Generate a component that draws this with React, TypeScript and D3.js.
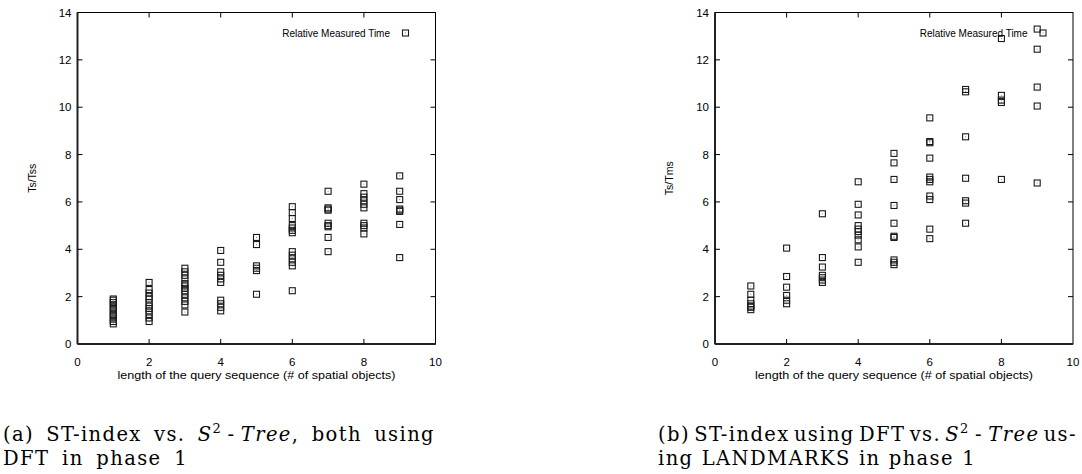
import React, { useEffect, useRef } from 'react';
import * as d3 from 'd3';

// query sequence lengths (x) and the measured ratios at each length
const lengths = [1, 2, 3, 4, 5, 6, 7, 8, 9];
const xTicks = [0, 2, 4, 6, 8, 10];
const yTicks = [0, 2, 4, 6, 8, 10, 12, 14];

// (a) Ts/Tss
const ratiosA = [
  [0.85, 0.95, 1.05, 1.15, 1.25, 1.35, 1.45, 1.55, 1.65, 1.75, 1.85, 1.9],
  [0.95, 1.1, 1.25, 1.4, 1.5, 1.6, 1.75, 1.9, 2.0, 2.15, 2.3, 2.6],
  [1.35, 1.65, 1.8, 1.95, 2.1, 2.25, 2.35, 2.45, 2.55, 2.75, 2.9, 3.05, 3.2],
  [1.4, 1.55, 1.7, 1.85, 2.6, 2.75, 2.9, 3.05, 3.45, 3.95],
  [2.1, 3.1, 3.2, 3.3, 4.2, 4.5],
  [2.25, 3.3, 3.45, 3.6, 3.75, 3.9, 4.7, 4.8, 4.9, 5.0, 5.3, 5.55, 5.8],
  [3.9, 4.5, 4.95, 5.0, 5.1, 5.65, 5.7, 5.75, 6.45],
  [4.65, 4.9, 5.0, 5.1, 5.75, 5.9, 6.05, 6.2, 6.35, 6.75],
  [3.65, 5.05, 5.6, 5.65, 5.7, 6.1, 6.45, 7.1],
];

// (b) Ts/Tms
const ratiosB = [
  [1.45, 1.55, 1.6, 1.7, 1.85, 2.1, 2.45],
  [1.7, 1.85, 2.05, 2.4, 2.85, 4.05],
  [2.6, 2.7, 2.8, 2.9, 3.25, 3.65, 5.5],
  [3.45, 4.1, 4.4, 4.6, 4.75, 4.85, 5.0, 5.45, 5.9, 6.85],
  [3.35, 3.45, 3.55, 4.5, 4.55, 5.1, 5.85, 6.95, 7.65, 8.05],
  [4.45, 4.85, 6.1, 6.25, 6.85, 6.95, 7.05, 7.85, 8.5, 8.55, 9.55],
  [5.1, 5.95, 6.05, 7.0, 8.75, 10.65, 10.75],
  [6.95, 10.2, 10.3, 10.5, 12.9],
  [6.8, 10.05, 10.85, 12.45, 13.3],
];

const legendLabel = 'Relative Measured Time';
const xTitle = 'length of the query sequence (# of spatial objects)';

type Seg = { t: string; it?: boolean; sup?: boolean };

const w = (t: string): Seg[] => [{ t }];
const s2tree = (tail: string): Seg[] => [
  { t: 'S', it: true }, { t: '2', sup: true }, { t: '\u2009-\u2009' }, { t: 'Tree', it: true }, { t: tail },
];

const captionA: Seg[][][] = [
  [w('(a)'), w('ST-index'), w('vs.'), s2tree(','), w('both'), w('using')],
  [w('DFT'), w('in'), w('phase'), w('1')],
];
const captionB: Seg[][][] = [
  [w('(b)'), w('ST-index'), w('using'), w('DFT'), w('vs.'), s2tree(''), w('us-')],
  [w('ing'), w('LANDMARKS'), w('in'), w('phase'), w('1')],
];

const SANS = 'Liberation Sans, Arial, Helvetica, sans-serif';
const SERIF = 'DejaVu Serif, serif';

const App = () => {
  const ref = useRef<SVGSVGElement>(null);

  useEffect(() => {
    const svg = d3.select(ref.current);
    svg.selectAll('*').remove();

    const top = 12.5;
    const bottom = 344;
    const plotW = 358;

    const drawPanel = (x0: number, ratios: number[][], yLabel: string) => {
      const x = d3.scaleLinear().domain([0, 10]).range([x0, x0 + plotW]);
      const y = d3.scaleLinear().domain([0, 14]).range([bottom, top]);
      const g = svg.append('g');

      // frame
      g.append('rect')
        .attr('x', x0).attr('y', top)
        .attr('width', plotW).attr('height', bottom - top)
        .attr('fill', 'none').attr('stroke', '#000').attr('stroke-width', 1);
      g.append('line').attr('x1', x0).attr('x2', x0 + plotW).attr('y1', bottom).attr('y2', bottom)
        .attr('stroke', '#222').attr('stroke-width', 2);
      g.append('line').attr('x1', x0).attr('x2', x0).attr('y1', top).attr('y2', bottom)
        .attr('stroke', '#222').attr('stroke-width', 2);

      // inward ticks on all four sides
      xTicks.slice(1, -1).forEach(t => {
        g.append('line').attr('x1', x(t)).attr('x2', x(t)).attr('y1', bottom).attr('y2', bottom - 5).attr('stroke', '#000');
        g.append('line').attr('x1', x(t)).attr('x2', x(t)).attr('y1', top).attr('y2', top + 5).attr('stroke', '#000');
      });
      yTicks.slice(1, -1).forEach(t => {
        g.append('line').attr('x1', x0).attr('x2', x0 + 5).attr('y1', y(t)).attr('y2', y(t)).attr('stroke', '#000');
        g.append('line').attr('x1', x0 + plotW).attr('x2', x0 + plotW - 5).attr('y1', y(t)).attr('y2', y(t)).attr('stroke', '#000');
      });

      g.selectAll('.xt').data(xTicks).enter().append('text')
        .attr('x', d => x(d)).attr('y', 366)
        .attr('text-anchor', 'middle').attr('font-family', SANS).attr('font-size', 11.5)
        .text(d => d);
      g.selectAll('.yt').data(yTicks).enter().append('text')
        .attr('x', x0 - 6).attr('y', d => y(d) + 4)
        .attr('text-anchor', 'end').attr('font-family', SANS).attr('font-size', 11.5)
        .text(d => d);

      g.append('text')
        .attr('x', x0 + plotW / 2).attr('y', 379)
        .attr('text-anchor', 'middle').attr('font-family', SANS).attr('font-size', 11.5)
        .attr('textLength', 278).attr('lengthAdjust', 'spacingAndGlyphs')
        .text(xTitle);
      g.append('text')
        .attr('transform', `translate(${x0 - 42},${(top + bottom) / 2}) rotate(-90)`)
        .attr('text-anchor', 'middle').attr('font-family', SANS).attr('font-size', 10.5)
        .text(yLabel);

      const pts = ratios.flatMap((vals, i) => vals.map(v => [lengths[i], v]));
      const marker = (sel: any, cx: number, cy: number) => {
        sel.append('rect')
          .attr('x', cx - 3).attr('y', cy - 3).attr('width', 6).attr('height', 6)
          .attr('fill', 'none').attr('stroke', '#1a1a1a').attr('stroke-width', 1.1);
        sel.append('rect')
          .attr('x', cx - 0.5).attr('y', cy - 0.5).attr('width', 1).attr('height', 1)
          .attr('fill', '#888');
      };
      pts.forEach(([a, b]) => marker(g, x(a), y(b)));

      // legend
      g.append('text')
        .attr('x', x0 + 312.5).attr('y', 37)
        .attr('text-anchor', 'end').attr('font-family', SANS).attr('font-size', 10)
        .text(legendLabel);
      marker(g, x0 + 328, 33);
    };

    drawPanel(77.5, ratiosA, 'Ts/Tss');
    drawPanel(715, ratiosB, 'Ts/Tms');

    const writeWord = (g: any, segs: Seg[], base: number) => {
      const t = g.append('text')
        .attr('y', base)
        .attr('font-family', SERIF).attr('font-size', 19.5)
        .attr('letter-spacing', 1.4).attr('fill', '#000');
      let shifted = false;
      segs.forEach(s => {
        const ts = t.append('tspan').text(s.t);
        if (s.it) ts.attr('font-style', 'italic');
        if (s.sup) { ts.attr('font-size', 13).attr('dy', -8); shifted = true; }
        else if (shifted) { ts.attr('dy', 8); shifted = false; }
      });
      return t;
    };

    // spread the words of a line between x0 and x1
    const justify = (g: any, words: Seg[][], x0: number, x1: number, base: number) => {
      const nodes = words.map(wd => writeWord(g, wd, base));
      const widths = nodes.map((n: any) => n.node().getComputedTextLength());
      const gap = (x1 - x0 - d3.sum(widths)) / (nodes.length - 1);
      let cur = x0;
      nodes.forEach((n: any, i: number) => { n.attr('x', cur); cur += widths[i] + gap; });
    };

    const drawCaption = (lines: Seg[][][], x0: number, x1: number, x2: number) => {
      const g = svg.append('g');
      justify(g, lines[0], x0, x1, 441);
      justify(g, lines[1], x0, x2, 465);
    };

    drawCaption(captionA, 3, 435, 188);
    drawCaption(captionB, 658, 1077, 976);
  }, []);

  return (
    <svg ref={ref} width={1082} height={474}
      style={{ position: 'absolute', left: 0, top: 0, background: '#fff' }} />
  );
};

export default App;
